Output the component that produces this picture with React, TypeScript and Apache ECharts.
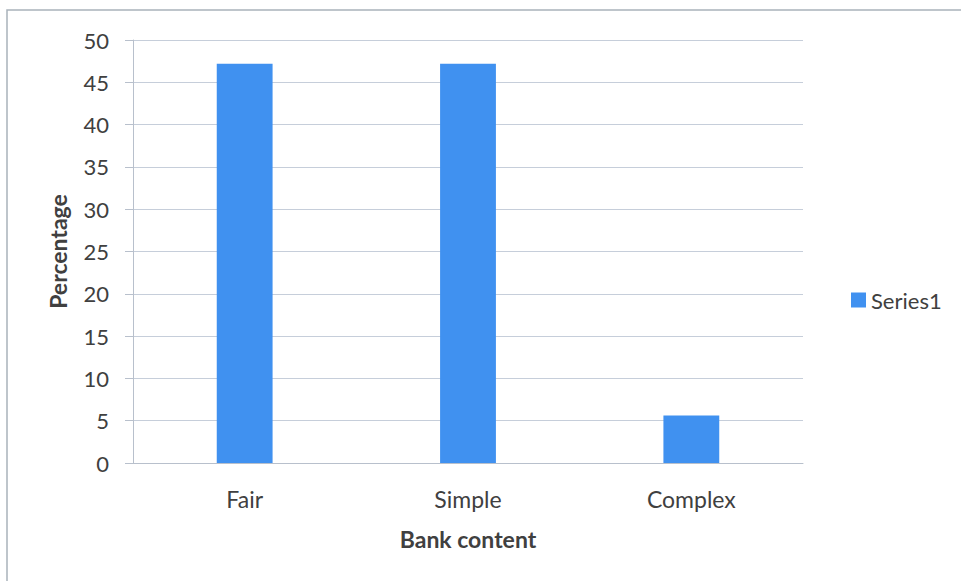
import React, { useEffect, useRef } from "react";
import * as echarts from "echarts";

const categories = ["Fair", "Simple", "Complex"];
const series1 = [47.2, 47.2, 5.6];
const yTicks = { min: 0, max: 50, interval: 5 };

const FONT = "Lato, 'Open Sans', sans-serif";
const TEXT = "#404040";

export default function App() {
  const ref = useRef<HTMLDivElement>(null);

  useEffect(() => {
    if (!ref.current) return;
    const chart = echarts.init(ref.current, undefined, { renderer: "svg" });
    chart.setOption({
      animation: false,
      backgroundColor: "#ffffff",
      graphic: [
        {
          type: "rect",
          shape: { x: 7, y: 10, width: 1000, height: 1000 },
          style: { fill: "none", stroke: "#a9b2bb", lineWidth: 1.5 },
          silent: true,
        },
      ],
      grid: { left: 133, right: 158, top: 40, bottom: 118 },
      legend: {
        left: 846,
        top: 284,
        itemWidth: 15,
        itemHeight: 15,
        icon: "rect",
        textStyle: { fontFamily: FONT, fontSize: 22, color: TEXT },
        data: ["Series1"],
      },
      xAxis: {
        type: "category",
        data: categories,
        name: "Bank content",
        nameLocation: "middle",
        nameGap: 64,
        nameTextStyle: { fontFamily: FONT, fontSize: 23, fontWeight: "bold", color: TEXT },
        axisLine: { lineStyle: { color: "#b8c0cc" } },
        axisTick: { show: false },
        axisLabel: { fontFamily: FONT, fontSize: 23, color: TEXT, margin: 24 },
      },
      yAxis: {
        type: "value",
        min: yTicks.min,
        max: yTicks.max,
        interval: yTicks.interval,
        name: "Percentage",
        nameLocation: "middle",
        nameGap: 64,
        nameTextStyle: { fontFamily: FONT, fontSize: 23, fontWeight: "bold", color: TEXT },
        axisLine: { show: true, lineStyle: { color: "#b8c0cc" } },
        axisTick: { show: true, length: 8, lineStyle: { color: "#b8c0cc" } },
        axisLabel: { fontFamily: FONT, fontSize: 22, color: TEXT, margin: 24 },
        splitLine: { lineStyle: { color: "#c6ceda" } },
      },
      series: [
        {
          name: "Series1",
          type: "bar",
          data: series1,
          barWidth: "25%",
          itemStyle: { color: "#4091f0" },
        },
      ],
    });
    return () => chart.dispose();
  }, []);

  return (
    <div
      ref={ref}
      style={{ position: "fixed", left: 0, top: 0, width: 961, height: 581 }}
    />
  );
}
